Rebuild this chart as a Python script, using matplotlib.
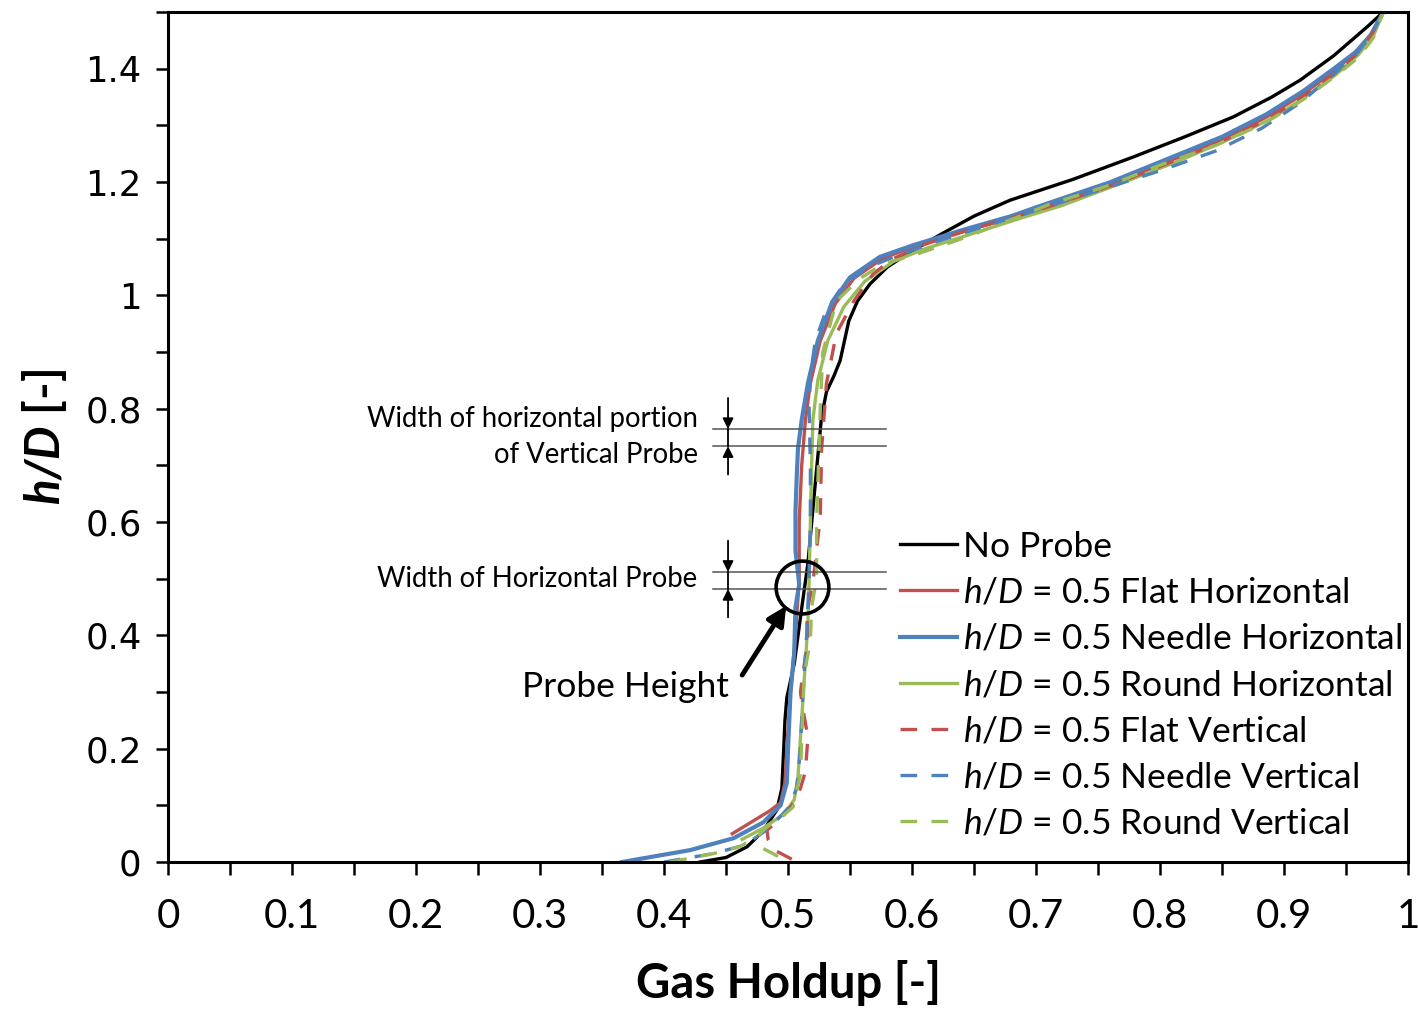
import matplotlib
matplotlib.use("Agg")
import matplotlib.pyplot as plt
from matplotlib.ticker import MultipleLocator, FuncFormatter

# --- data (gas holdup vs h/D) ---
no_probe_gh = [0.429, 0.45, 0.467, 0.48, 0.491, 0.495, 0.4965, 0.4975, 0.499, 0.505, 0.511, 0.516,
               0.522, 0.527, 0.531, 0.537, 0.542, 0.545, 0.549, 0.556, 0.566, 0.580, 0.601, 0.625,
               0.650, 0.679, 0.730, 0.778, 0.820, 0.859, 0.890, 0.913, 0.940, 0.967, 0.980]
no_probe_h = [0.0, 0.008, 0.027, 0.055, 0.092, 0.13, 0.2, 0.25, 0.29, 0.35, 0.448, 0.527,
              0.669, 0.786, 0.830, 0.858, 0.885, 0.915, 0.955, 0.99, 1.02, 1.05, 1.08, 1.11,
              1.14, 1.168, 1.205, 1.244, 1.28, 1.315, 1.35, 1.38, 1.423, 1.474, 1.5]

flat_h_gh = [0.455, 0.47, 0.485, 0.494, 0.4975, 0.499, 0.502, 0.506, 0.509, 0.509, 0.511, 0.514,
             0.518, 0.526, 0.538, 0.553, 0.576, 0.600, 0.640, 0.680, 0.710, 0.760, 0.805, 0.850,
             0.886, 0.915, 0.940, 0.958, 0.970, 0.980]
flat_h_h = [0.05, 0.07, 0.09, 0.105, 0.14, 0.2, 0.3, 0.4, 0.5, 0.6, 0.7, 0.78,
            0.845, 0.92, 0.985, 1.03, 1.065, 1.085, 1.112, 1.137, 1.157, 1.195, 1.235, 1.275,
            1.315, 1.355, 1.395, 1.43, 1.46, 1.5]

needle_h_gh = [0.366, 0.40, 0.421, 0.456, 0.48, 0.494, 0.499, 0.500, 0.502, 0.505, 0.506, 0.509,
               0.506, 0.506, 0.507, 0.508, 0.511, 0.516, 0.524, 0.535, 0.550, 0.574, 0.600, 0.640,
               0.680, 0.706, 0.760, 0.805, 0.850, 0.886, 0.915, 0.940, 0.958, 0.970, 0.980]
needle_h_h = [0.0, 0.013, 0.021, 0.042, 0.07, 0.1, 0.14, 0.2, 0.3, 0.37, 0.45, 0.49,
              0.55, 0.62, 0.68, 0.73, 0.78, 0.845, 0.92, 0.985, 1.032, 1.068, 1.088, 1.115,
              1.14, 1.16, 1.2, 1.24, 1.28, 1.32, 1.36, 1.40, 1.43, 1.46, 1.5]

round_h_gh = [0.463, 0.48, 0.497, 0.505, 0.508, 0.510, 0.513, 0.516, 0.517, 0.518, 0.519, 0.520,
              0.524, 0.532, 0.545, 0.562, 0.585, 0.610, 0.650, 0.690, 0.720, 0.765, 0.810, 0.850,
              0.888, 0.917, 0.942, 0.960, 0.972, 0.980]
round_h_h = [0.04, 0.06, 0.085, 0.11, 0.15, 0.22, 0.32, 0.42, 0.5, 0.6, 0.7, 0.78,
             0.85, 0.92, 0.98, 1.025, 1.06, 1.082, 1.11, 1.138, 1.158, 1.195, 1.233, 1.27,
             1.31, 1.35, 1.39, 1.425, 1.458, 1.5]

flat_v_gh = [0.503, 0.490, 0.484, 0.483, 0.494, 0.503, 0.510, 0.514, 0.516, 0.512, 0.510, 0.512,
             0.516, 0.515, 0.520, 0.526, 0.527, 0.531, 0.539, 0.553, 0.569, 0.585, 0.610, 0.645,
             0.685, 0.715, 0.762, 0.805, 0.848, 0.886, 0.915, 0.940, 0.958, 0.970, 0.980]
flat_v_h = [0.005, 0.02, 0.039, 0.056, 0.077, 0.10, 0.13, 0.16, 0.22, 0.27, 0.30, 0.333,
            0.39, 0.44, 0.492, 0.609, 0.727, 0.845, 0.933, 0.99, 1.039, 1.065, 1.09, 1.115,
            1.14, 1.16, 1.195, 1.232, 1.27, 1.31, 1.35, 1.39, 1.425, 1.458, 1.5]

needle_v_gh = [0.40, 0.44, 0.465, 0.485, 0.500, 0.507, 0.510, 0.512, 0.515, 0.517, 0.518, 0.518,
               0.517, 0.518, 0.522, 0.531, 0.545, 0.565, 0.590, 0.620, 0.660, 0.700, 0.750, 0.800,
               0.845, 0.882, 0.913, 0.940, 0.958, 0.970, 0.980]
needle_v_h = [0.0, 0.015, 0.03, 0.06, 0.095, 0.13, 0.2, 0.3, 0.4, 0.5, 0.6, 0.7,
              0.8, 0.86, 0.92, 0.975, 1.02, 1.05, 1.072, 1.095, 1.123, 1.15, 1.185, 1.22,
              1.255, 1.295, 1.34, 1.39, 1.425, 1.458, 1.5]

round_v_gh = [0.405, 0.44, 0.461, 0.475, 0.483, 0.495, 0.504, 0.510, 0.512, 0.513, 0.518, 0.519,
              0.523, 0.523, 0.526, 0.528, 0.539, 0.558, 0.577, 0.600, 0.640, 0.679, 0.710, 0.760,
              0.800, 0.845, 0.885, 0.915, 0.940, 0.960, 0.972, 0.980]
round_v_h = [0.0, 0.015, 0.027, 0.045, 0.062, 0.08, 0.097, 0.156, 0.274, 0.33, 0.39, 0.45,
             0.5, 0.6, 0.8, 0.9, 0.99, 1.03, 1.056, 1.07, 1.10, 1.133, 1.16, 1.195,
             1.23, 1.265, 1.305, 1.345, 1.385, 1.42, 1.455, 1.5]
# small separate piece of the round vertical curve near the bottom
round_v_tail_gh = [0.492, 0.478, 0.474]
round_v_tail_h = [0.010, 0.026, 0.045]

labels = ["No Probe",
          r"$h/D$ = 0.5 Flat Horizontal",
          r"$h/D$ = 0.5 Needle Horizontal",
          r"$h/D$ = 0.5 Round Horizontal",
          r"$h/D$ = 0.5 Flat Vertical",
          r"$h/D$ = 0.5 Needle Vertical",
          r"$h/D$ = 0.5 Round Vertical"]

# probe marks (h/D) and annotation positions
vert_probe_band = [0.734, 0.764]
horiz_probe_band = [0.482, 0.512]
probe_height = (0.511, 0.485)

plt.rcParams['font.family'] = ['Lato', 'DejaVu Sans']
plt.rcParams['mathtext.fontset'] = 'custom'
plt.rcParams['mathtext.rm'] = 'Lato'
plt.rcParams['mathtext.it'] = 'Lato:italic'
plt.rcParams['mathtext.bf'] = 'Lato:bold'
plt.rcParams['mathtext.bfit'] = 'Lato:bold:italic'

RED = '#C0504D'
BLUE = '#4F81BD'
GREEN = '#9BBB59'

fig = plt.figure(figsize=(14.18, 10.1), dpi=100)
ax = fig.add_axes([0.1185, 0.1465, 0.8745, 0.8415])

lw = 2.4
dash = (5, 4.3)
ax.plot(no_probe_gh, no_probe_h, color='black', lw=lw, label=labels[0])
ax.plot(flat_h_gh, flat_h_h, color=RED, lw=lw, label=labels[1])
ax.plot(needle_h_gh, needle_h_h, color=BLUE, lw=lw + 0.6, label=labels[2])
ax.plot(round_h_gh, round_h_h, color=GREEN, lw=lw, label=labels[3])
ax.plot(flat_v_gh, flat_v_h, color=RED, lw=lw, dashes=dash, label=labels[4])
ax.plot(needle_v_gh, needle_v_h, color=BLUE, lw=lw, dashes=dash, label=labels[5])
ax.plot(round_v_gh, round_v_h, color=GREEN, lw=lw, dashes=dash, label=labels[6])
ax.plot(round_v_tail_gh, round_v_tail_h, color=GREEN, lw=lw, dashes=dash)

# probe width lines
for y in vert_probe_band + horiz_probe_band:
    ax.plot([0.4395, 0.579], [y, y], color='#555555', lw=1.1)

# dimension arrows
xa = 0.4516
for band in (vert_probe_band, horiz_probe_band):
    lo, hi = band
    ax.plot([xa, xa], [lo, hi], color='black', lw=1.3)
    ax.annotate('', xy=(xa, hi), xytext=(xa, hi + 0.055),
                arrowprops=dict(arrowstyle='-|>', color='black', lw=1.3,
                                mutation_scale=16, shrinkA=0, shrinkB=0))
    ax.annotate('', xy=(xa, lo), xytext=(xa, lo - 0.05),
                arrowprops=dict(arrowstyle='-|>', color='black', lw=1.3,
                                mutation_scale=16, shrinkA=0, shrinkB=0))

ax.text(0.427, 0.782, "Width of horizontal portion", ha='right', va='center', fontsize=19.8)
ax.text(0.427, 0.718, "of Vertical Probe", ha='right', va='center', fontsize=19.8)
ax.text(0.427, 0.499, "Width of Horizontal Probe", ha='right', va='center', fontsize=19.8)

# probe height circle + arrow
ax.plot([probe_height[0]], [probe_height[1]], marker='o', ms=38, mfc='none',
        mec='black', mew=2.6)
ax.annotate('', xy=(0.4985, 0.452), xytext=(0.463, 0.33),
            arrowprops=dict(arrowstyle='-|>', color='black', lw=3.5,
                            mutation_scale=28, shrinkA=0, shrinkB=0))
ax.text(0.369, 0.309, "Probe Height", ha='center', va='center', fontsize=25.5)

ax.set_xlim(0, 1)
ax.set_ylim(0, 1.5)
ax.xaxis.set_major_locator(MultipleLocator(0.1))
ax.xaxis.set_minor_locator(MultipleLocator(0.05))
ax.yaxis.set_major_locator(MultipleLocator(0.2))
ax.yaxis.set_minor_locator(MultipleLocator(0.1))
fmt = FuncFormatter(lambda v, p: '%g' % round(v, 2))
ax.xaxis.set_major_formatter(fmt)
ax.yaxis.set_major_formatter(fmt)
ax.tick_params(which='both', direction='out', length=9, width=1.8, top=False, right=False)
ax.tick_params(axis='x', pad=17, labelsize=29)
ax.tick_params(axis='y', pad=10)
for t in ax.get_yticklabels():
    t.set_fontfamily(['DejaVu Sans'])
    t.set_fontsize(25.5)
for s in ax.spines.values():
    s.set_linewidth(2.2)

ax.set_xlabel("Gas Holdup [-]", fontsize=34, fontweight='bold', labelpad=18)
ax.set_ylabel(r"$\mathbfit{h/D}$ [-]", fontsize=34, fontweight='bold', labelpad=12)

ax.legend(loc='upper left', bbox_to_anchor=(0.59, 0.39), frameon=False, fontsize=25.5,
          handlelength=1.62, handletextpad=0.18, labelspacing=0.4, borderpad=0,
          borderaxespad=0)

fig.savefig("out.png", dpi=100)
